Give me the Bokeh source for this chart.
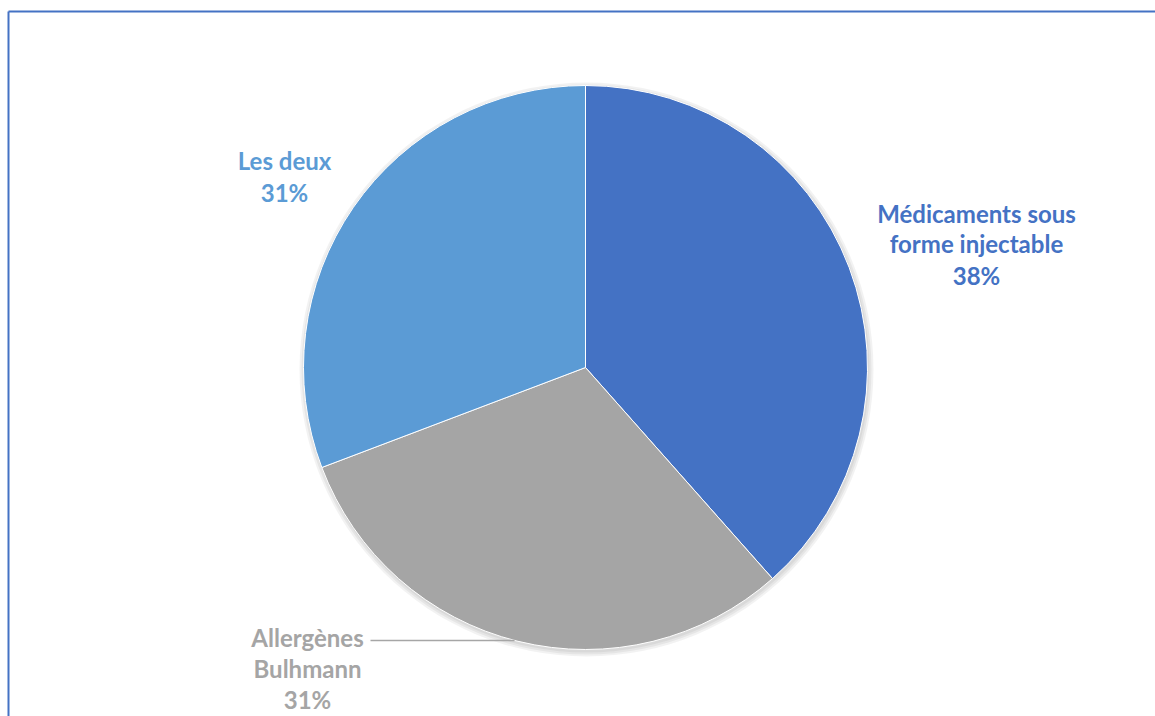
import math
from bokeh.plotting import figure
from bokeh.models import Range1d, ColumnDataSource
from bokeh.core.properties import value
from bokeh.embed import file_html
from bokeh.resources import INLINE

# ---- data ----
categories = ["Médicaments sous forme injectable", "Allergènes Bulhmann", "Les deux"]
counts = [5, 4, 4]
colors = ["#4472C4", "#A5A5A5", "#5B9BD5"]
name_lines = [["Médicaments sous", "forme injectable"],
              ["Allergènes", "Bulhmann"],
              ["Les deux"]]

W, H = 1155, 716
p = figure(width=W, height=H, output_backend="svg", toolbar_location=None,
           x_range=Range1d(0, W), y_range=Range1d(0, H),
           min_border=0)
p.axis.visible = False
p.grid.visible = False
p.outline_line_color = None
p.background_fill_color = "white"

def Y(sy):
    return H - sy

# frame (top and left border)
p.line([8, 8], [Y(11), Y(730)], line_color="#4472C4", line_width=2)
p.line([8, 1170], [Y(11), Y(11)], line_color="#4472C4", line_width=2)

cx, cy, r = 585, Y(367), 282

# soft shadow
for i in range(3):
    p.circle(x=[cx + 1], y=[cy - 2], radius=r + 1 + i * 2, radius_units="screen",
             fill_color="black", fill_alpha=0.05, line_color=None)

total = sum(counts)
starts, ends = [], []
cum = 0
for v in counts:
    starts.append(math.pi / 2 - 2 * math.pi * cum / total)
    cum += v
    ends.append(math.pi / 2 - 2 * math.pi * cum / total)

src = ColumnDataSource(dict(x=[cx] * 3, y=[cy] * 3, start=starts, end=ends, color=colors))
p.wedge(x="x", y="y", radius=r, radius_units="screen", start_angle="start", end_angle="end",
        direction="clock", fill_color="color", line_color="white", line_width=1, source=src)

# leader line for Allergènes
p.line([370, 514], [Y(640), Y(640)], line_color="#A6A6A6", line_width=1.5)

font = value("Lato")
label_pos = [(976, [213, 243, 275]), (307, [637, 668, 699]), (284, [160, 192])]
for (lx, ys), names, v, col in zip(label_pos, name_lines, counts, colors):
    lines = names + [f"{round(100 * v / total)}%"]
    for sy, t in zip(ys, lines):
        p.text(x=[lx], y=[Y(sy)], text=[t], text_font=font, text_font_size="24px",
               text_font_style="bold", text_color=col, text_align="center",
               text_baseline="middle")

open("out.html", "w").write(file_html(p, INLINE))
